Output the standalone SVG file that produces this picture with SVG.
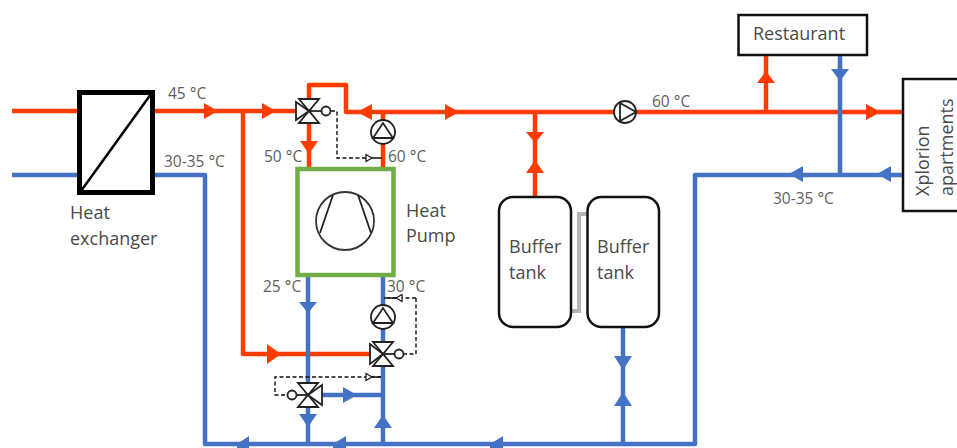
<svg xmlns="http://www.w3.org/2000/svg" width="957" height="448" viewBox="0 0 957 448">
<style>
text{font-family:"Open Sans","Noto Sans","Liberation Sans",sans-serif;font-size:18px;fill:#4a4a4a}
.s{font-size:15.500px;fill:#5f5f5f}
.r{fill:none;stroke:#ff3c00;stroke-width:4.500;stroke-linejoin:round}
.b{fill:none;stroke:#4472c4;stroke-width:4.500;stroke-linejoin:round}
.rf{fill:#ff3c00}.bf{fill:#4472c4}
.k{fill:none;stroke:#222;stroke-width:1.800}
.v{fill:#fff;stroke:#222;stroke-width:1.800;stroke-linejoin:miter}
.d{fill:none;stroke:#111;stroke-width:1.400;stroke-dasharray:4 2.500}
.t{fill:#fff;stroke:#111;stroke-width:2.500}
</style>
<defs>
<path id="vt" class="v" d="M-10 -12H10L0 0ZM-10 12H10L0 0Z"/>
<g id="pump"><circle class="v" r="12"/><path class="k" d="M-10 6H10L0 -9Z"/></g>
</defs>
<g id="connectors">
<path class="r" d="M12 111H78M153 111H300M243 111V354H372M309 111V85H346V112H903M309 111V167M383 112V167M535 112V197M766 112V55"/>
<path class="b" d="M12 175H78M153 175H205V444H695V175H903M840 55V175M308 275V444M383 275V444M320 395H383M623 326V444"/>
<path d="M571 311H579V214H587" fill="none" stroke="#b5b5b5" stroke-width="4"/>
<path class="rf" d="M218 111L204 103V119ZM276 111L262 103V119ZM357 112L372 104V120ZM459 112L445 104V120ZM881 112L866 104V120ZM309 154L300 141H318ZM535 143L526 132H544ZM535 160L526 173H544ZM766 71L757 83H775ZM281 354L267 344V364Z"/>
<path class="bf" d="M308 313L299 302H317ZM840 81L831 69H849ZM789 174L803 166V182ZM877 174L891 166V182ZM357 395L343 387V403ZM308 427L299 414H317ZM383 415L374 428H392ZM623 370L614 356H632ZM623 392L614 406H632ZM237 444L249 436V452H237ZM333 444L346 436V452H333ZM490 444L503 436V452H490Z"/>
<path class="d" d="M331 111H337V158H368M416 298H388M416 298V354H403M381 377H275V395H288"/>
<path d="M372 158L366 154.500V161.500ZM396 298L402 294.500V301.500ZM372 377L366 373.500V380.500Z" fill="#fff" stroke="#111" stroke-width="1.200"/>
<path d="M372 158H382M396 298H384M372 377H381" stroke="#111" stroke-width="1.400"/>
</g>
<g id="heat-exchanger"><rect x="79.500" y="92.500" width="73" height="100" fill="#fff" stroke="#000" stroke-width="5"/><path d="M81 191L151 94" stroke="#000" stroke-width="2.500"/><text x="70" y="219">Heat</text><text x="70" y="245">exchanger</text></g>
<g id="heat-pump"><rect x="297.500" y="169" width="96" height="106" fill="#fff" stroke="#70ad47" stroke-width="4.500"/><circle cx="345" cy="221" r="29" fill="#fff" stroke="#333" stroke-width="1.800"/><path class="k" d="M333 195L320 233M358 195L371 233"/><text x="406" y="217">Heat</text><text x="406" y="242">Pump</text></g>
<g id="valve-top"><use href="#vt" x="309" y="111"/><path class="v" d="M296 102V120L309 111Z"/><path class="k" d="M309 111H322"/><circle class="v" cx="326" cy="111" r="4.500"/></g>
<g id="pump-top"><use href="#pump" x="383" y="132"/></g>
<g id="pump-bottom"><use href="#pump" x="383" y="317"/></g>
<g id="valve-mid"><use href="#vt" x="383" y="354"/><path class="v" d="M370 344V364L383 354Z"/><path class="k" d="M383 354H395"/><circle class="v" cx="399" cy="354" r="4.500"/></g>
<g id="valve-low"><use href="#vt" x="308" y="395"/><path class="v" d="M322 385V405L308 395Z"/><path class="k" d="M308 395H296"/><circle class="v" cx="292" cy="395" r="4.500"/></g>
<g id="pump-main"><circle class="v" cx="625" cy="112" r="11"/><path class="k" d="M620 103V121L636 112Z"/></g>
<g id="buffer-1"><rect x="499" y="197" width="72" height="130" rx="14" class="t"/><text x="509" y="253">Buffer</text><text x="509" y="279">tank</text></g>
<g id="buffer-2"><rect x="587.500" y="197" width="71.500" height="130" rx="14" class="t"/><text x="597" y="253">Buffer</text><text x="597" y="279">tank</text></g>
<g id="restaurant"><rect x="738.500" y="15" width="128.500" height="40" class="t"/><text x="753" y="40">Restaurant</text></g>
<g id="apartments"><rect x="903" y="79" width="60" height="132" class="t"/><text transform="translate(929 196) rotate(-90)">Xplorion</text><text transform="translate(953 196) rotate(-90)">apartments</text></g>
<g id="labels"><text class="s" x="168" y="99">45 °C</text><text class="s" x="164" y="167">30-35 °C</text><text class="s" x="264" y="162">50 °C</text><text class="s" x="388" y="162">60 °C</text><text class="s" x="263" y="292">25 °C</text><text class="s" x="387" y="292">30 °C</text><text class="s" x="652" y="107">60 °C</text><text class="s" x="773" y="204">30-35 °C</text></g>
</svg>
